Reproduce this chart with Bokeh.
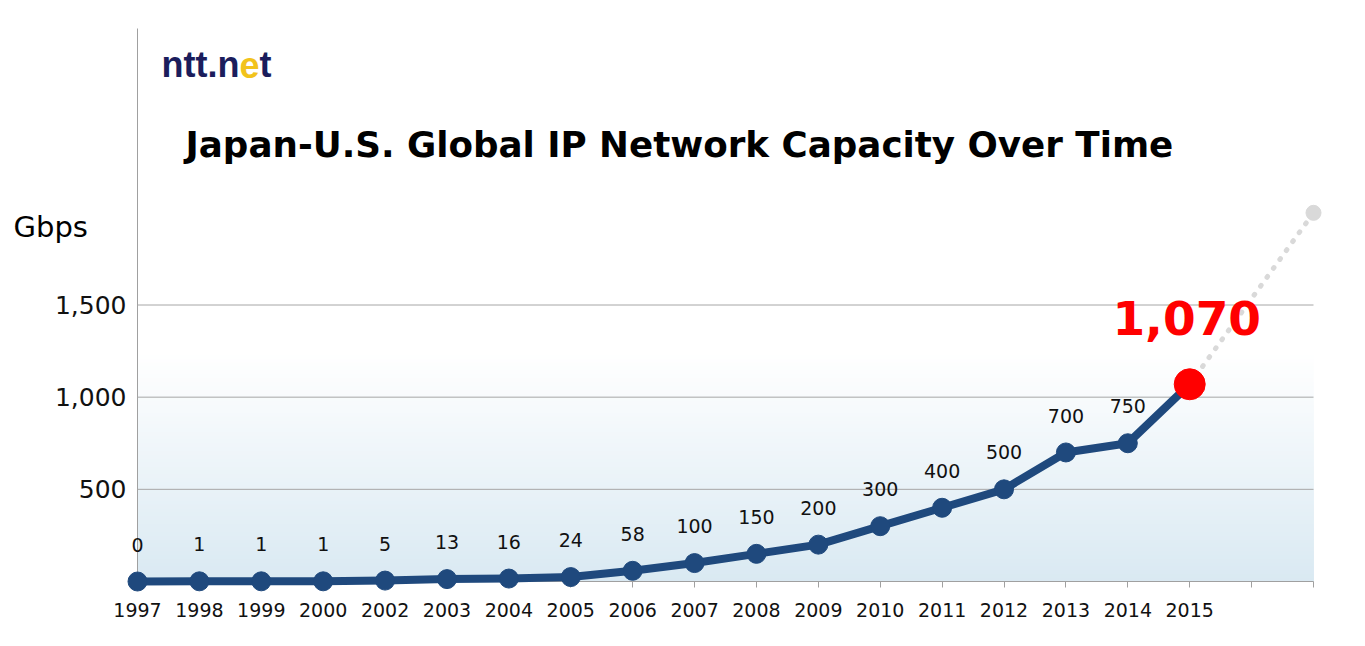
from bokeh.plotting import figure
from bokeh.models import Range1d, FixedTicker, Label
from bokeh.core.properties import value
from bokeh.embed import file_html
from bokeh.resources import INLINE
import numpy as np

# ---- data ----
years = ["1997", "1998", "1999", "2000", "2002", "2003", "2004", "2005", "2006",
         "2007", "2008", "2009", "2010", "2011", "2012", "2013", "2014", "2015"]
capacity = [0, 1, 1, 1, 5, 13, 16, 24, 58, 100, 150, 200, 300, 400, 500, 700, 750, 1070]
extra_tick_labels = ["", ""]
forecast = 2000
y_ticks = [500, 1000, 1500]
y_tick_labels = ["500", "1,000", "1,500"]
y_max = 3000
title_text = "Japan-U.S. Global IP Network Capacity Over Time"
unit_text = "Gbps"

tick_labels = years + extra_tick_labels
n_ticks = len(tick_labels)
idx = list(range(len(years)))
tick_idx = list(range(n_ticks))
last = len(years) - 1
fc_idx = n_ticks - 1

# ---- layout (pixels) ----
W, H = 1365, 646
FL, FR, FT, FB = 5, 1360, 5, 636              # frame edges
X0PX, XNPX = 137, 1313                        # first / last category pixel
Y0PX, YMPX = 581, 28                          # 0 and y_max pixel
sx = (XNPX - X0PX) / fc_idx
sy = (Y0PX - YMPX) / y_max
K = 0.36  # baseline correction factor (em)

def px_x(px):
    return (px - X0PX) / sx

def px_y(py):
    return (Y0PX - py) / sy

p = figure(width=W, height=H, output_backend="svg", toolbar_location=None,
           x_range=Range1d(px_x(FL), px_x(FR)), y_range=Range1d(px_y(FB), px_y(FT)),
           min_border_left=FL, min_border_right=W - FR, min_border_top=FT,
           min_border_bottom=H - FB)
p.outline_line_color = None
p.grid.visible = False
p.background_fill_color = "white"
p.border_fill_color = "white"

# gradient background
n_bands = 60
tops = np.linspace(1250, 0, n_bands, endpoint=False)
c_bot = np.array([217, 233, 242])
c_top = np.array([255, 255, 255])
cols = []
for t in tops:
    f = t / 1250.0
    c = (c_bot + (c_top - c_bot) * f).round().astype(int)
    cols.append("#%02x%02x%02x" % tuple(c))
p.quad(left=[0] * n_bands, right=[fc_idx] * n_bands, bottom=[0] * n_bands, top=list(tops),
       fill_color=cols, line_color=None, level="image")

# grid lines
p.segment(x0=[0] * len(y_ticks), x1=[fc_idx] * len(y_ticks), y0=y_ticks, y1=y_ticks,
          line_color="#a6a6a6", line_width=1)

# axes (line + tick marks only; the labels are drawn as text below)
xa = p.xaxis[0]
xa.fixed_location = 0
xa.bounds = (0, fc_idx)
xa.ticker = FixedTicker(ticks=[], minor_ticks=tick_idx)
xa.major_tick_out = 0
xa.major_tick_in = 0
xa.minor_tick_out = 6
xa.minor_tick_in = 0
xa.axis_line_color = "#a0a0a0"
xa.minor_tick_line_color = "#a0a0a0"
xa.level = "underlay"

ya = p.yaxis[0]
ya.fixed_location = 0
ya.bounds = (0, y_max)
ya.ticker = FixedTicker(ticks=[], minor_ticks=[])
ya.major_tick_out = 0
ya.major_tick_in = 0
ya.minor_tick_out = 0
ya.minor_tick_in = 0
ya.axis_line_color = "#a0a0a0"
ya.level = "underlay"

FONT = "DejaVu Sans"

# tick labels
p.text(x=tick_idx, y=[0] * n_ticks, text=tick_labels, text_font=value(FONT),
       text_font_size="19px", text_color="#111111", text_align="center",
       text_baseline="alphabetic", y_offset=35 - K * 19)
p.text(x=[0] * len(y_ticks), y=y_ticks, text=y_tick_labels, text_font=value(FONT),
       text_font_size="25px", text_color="#111111", text_align="right",
       text_baseline="alphabetic", x_offset=-11, y_offset=9 - K * 25)

# forecast dotted line
p.line(x=[last, fc_idx], y=[capacity[last], forecast], line_color="#d9d9d9",
       line_width=5, line_dash="1 10", line_cap="round")
p.scatter(x=[fc_idx], y=[forecast], size=15, color="#d9d9d9")

# main series
blue = "#1f497d"
p.line(x=idx, y=capacity, line_color=blue, line_width=8, line_join="round")
p.scatter(x=idx[:-1], y=capacity[:-1], size=19, color=blue)
p.scatter(x=[last], y=[capacity[last]], size=31, color="#ff0000")

# data labels
p.text(x=idx[:-1], y=capacity[:-1], text=[str(v) for v in capacity[:-1]],
       text_font=value(FONT), text_font_size="19px", text_color="#111111",
       text_align="center", text_baseline="alphabetic", y_offset=-30 - K * 19)
p.text(x=[last], y=[capacity[last]], text=[f"{capacity[last]:,}"],
       text_font=value(FONT), text_font_style="bold", text_font_size="47px",
       text_color="#ff0000", text_align="center", text_baseline="alphabetic",
       y_offset=-49 - K * 47, x_offset=-3)

# title, unit, logo
p.add_layout(Label(x=px_x(185), y=px_y(157 - K * 35.7), text=title_text, text_font=FONT,
                   text_font_style="bold", text_font_size="35.7px", text_color="#000000",
                   text_align="left", text_baseline="alphabetic"))
p.add_layout(Label(x=px_x(13), y=px_y(237 - K * 29), text=unit_text, text_font=FONT,
                   text_font_size="29px", text_color="#000000",
                   text_align="left", text_baseline="alphabetic"))

logo_parts = [("ntt.n", "#1b1d5c"), ("e", "#f2c31b"), ("t", "#1b1d5c")]
logo_font_px = 36
adv = {"ntt.n": 0.611 * 2 + 0.333 * 2 + 0.278, "e": 0.556, "t": 0.333}
cx = 161
for txt, col in logo_parts:
    p.add_layout(Label(x=px_x(cx), y=px_y(77 - K * logo_font_px), text=txt,
                       text_font="Liberation Sans", text_font_style="bold",
                       text_font_size=f"{logo_font_px}px", text_color=col,
                       text_align="left", text_baseline="alphabetic"))
    cx += adv[txt] * logo_font_px

open("out.html", "w").write(file_html(p, INLINE))
